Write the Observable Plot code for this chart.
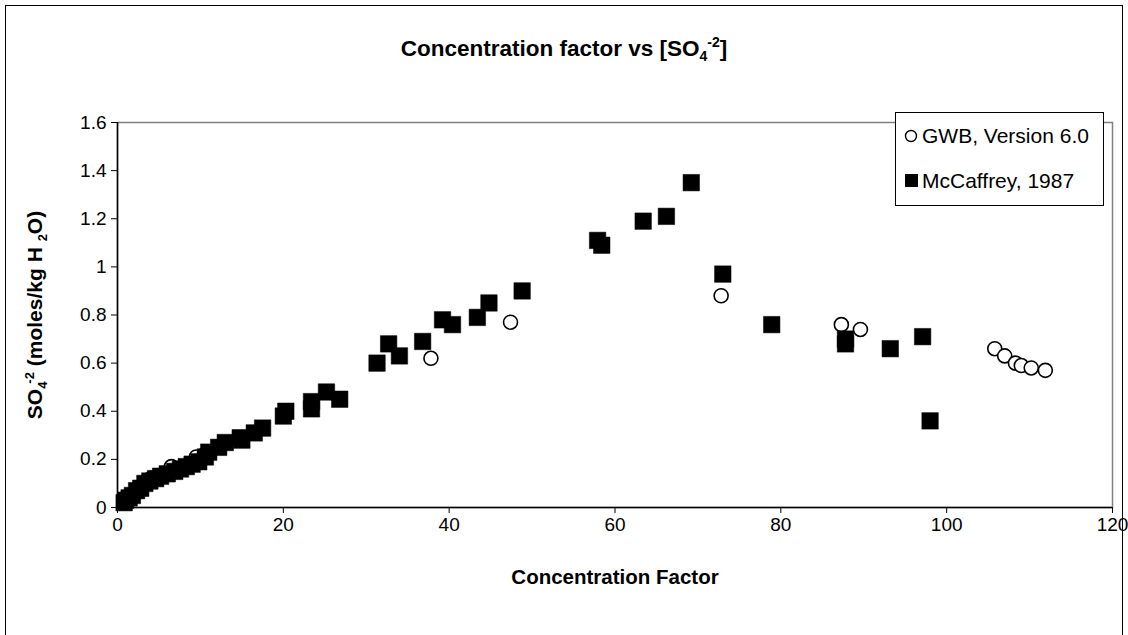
<!DOCTYPE html>
<html>
<head>
<meta charset="utf-8">
<script src="https://cdn.jsdelivr.net/npm/d3@7"></script>
<script src="https://cdn.jsdelivr.net/npm/@observablehq/plot@0.6"></script>
<style>
  html, body { margin: 0; padding: 0; background: white; }
  #chart svg { display: block; }
</style>
</head>
<body>
<div id="chart"></div>
<script>
// ---- Data ----
const gwbX = [1.0, 4.0, 6.5, 9.5, 10.5, 37.8, 47.4, 72.8, 87.3, 89.6, 105.8, 107.0, 108.3, 109.0, 110.2, 111.9];
const gwbY = [0.03, 0.12, 0.17, 0.21, 0.22, 0.62, 0.77, 0.88, 0.76, 0.74, 0.66, 0.63, 0.60, 0.59, 0.58, 0.57];

const mcX = [0.8, 1.0, 1.4, 1.8, 2.3, 2.8, 3.3, 3.9, 4.6, 5.2, 6.0, 6.9, 7.6, 8.3, 9.0, 9.8, 10.6, 11.0, 12.2, 13.0,
             14.8, 15.0, 16.5, 17.5, 20.0, 20.3, 23.4, 23.4, 25.2, 26.8, 31.3, 32.7, 34.0, 36.8, 39.2, 40.4, 43.4, 44.8, 48.8,
             57.9, 58.4, 63.4, 66.2, 69.2, 73.0, 78.9, 87.8, 87.8, 93.2, 97.1, 98.0];
const mcY = [0.02, 0.03, 0.04, 0.05, 0.07, 0.08, 0.10, 0.11, 0.12, 0.13, 0.14, 0.15, 0.16, 0.17, 0.18, 0.19, 0.21, 0.23, 0.25, 0.27,
             0.29, 0.28, 0.31, 0.33, 0.38, 0.40, 0.41, 0.44, 0.48, 0.45, 0.60, 0.68, 0.63, 0.69, 0.78, 0.76, 0.79, 0.85, 0.90,
             1.11, 1.09, 1.19, 1.21, 1.35, 0.97, 0.76, 0.70, 0.68, 0.66, 0.71, 0.36];

const xTicks = [0, 20, 40, 60, 80, 100, 120];
const yTicks = [0, 0.2, 0.4, 0.6, 0.8, 1, 1.2, 1.4, 1.6];
const yTickLabels = ["0", "0.2", "0.4", "0.6", "0.8", "1", "1.2", "1.4", "1.6"];
const seriesNames = ["GWB, Version 6.0", "McCaffrey, 1987"];

const gwb = gwbX.map((x, i) => ({x, y: gwbY[i]}));
const mc = mcX.map((x, i) => ({x, y: mcY[i]}));

const FONT = "'Liberation Sans', Arial, sans-serif";

const chart = Plot.plot({
  width: 1128,
  height: 635,
  marginLeft: 117,
  marginRight: 16,
  marginTop: 122,
  marginBottom: 128,
  style: {fontFamily: FONT, fontSize: "19px", color: "black", background: "white", overflow: "visible"},
  x: {domain: [0, 120]},
  y: {domain: [0, 1.6]},
  marks: [
    Plot.frame({stroke: "#808080", strokeWidth: 1.5}),
    Plot.axisX({ticks: xTicks, tickSize: 6, tickPadding: 4, label: null, tickFormat: d => String(d), fontSize: 19}),
    Plot.axisY({ticks: yTicks, tickSize: 6, tickPadding: 5, label: null,
                tickFormat: d => yTickLabels[yTicks.indexOf(d)], fontSize: 19}),
    Plot.ruleX([0], {stroke: "black", strokeWidth: 1.5}),
    Plot.ruleY([0], {stroke: "black", strokeWidth: 1.5}),
    Plot.dot(gwb, {x: "x", y: "y", symbol: "circle", r: 7, fill: "white", stroke: "black", strokeWidth: 1.6}),
    Plot.dot(mc, {x: "x", y: "y", symbol: "square", r: 9.3, fill: "black", stroke: "black", strokeWidth: 0.5})
  ]
});

document.getElementById("chart").appendChild(chart);

// ---- Decorations: outer frame, titles, legend ----
const svg = d3.select(chart);

svg.insert("rect", ":first-child")
  .attr("x", 5.5).attr("y", 5.5).attr("width", 1117).attr("height", 700)
  .attr("fill", "none").attr("stroke", "black").attr("stroke-width", 1);

function addText(sel) {
  return sel.append("text")
    .attr("font-family", FONT).attr("fill", "black")
    .style("text-anchor", "start");
}

// Title
const title = addText(svg)
  .attr("x", 564).attr("y", 56)
  .style("text-anchor", "middle")
  .attr("font-size", 22.5).attr("font-weight", "bold");
title.append("tspan").text("Concentration factor vs [SO");
title.append("tspan").attr("dy", 5).attr("font-size", 14).text("4");
title.append("tspan").attr("dy", -14).attr("font-size", 14).text("-2");
title.append("tspan").attr("dy", 9).text("]");

// X axis title
addText(svg)
  .attr("x", 615).attr("y", 584)
  .style("text-anchor", "middle")
  .attr("font-size", 20.5).attr("font-weight", "bold")
  .text("Concentration Factor");

// Y axis title
const yl = addText(svg)
  .attr("transform", "translate(42,315) rotate(-90)")
  .style("text-anchor", "middle")
  .attr("font-size", 21).attr("font-weight", "bold");
yl.append("tspan").text("SO");
yl.append("tspan").attr("dy", 5).attr("font-size", 13).text("4");
yl.append("tspan").attr("dy", -13).attr("dx", -2).attr("font-size", 13).text("-2");
yl.append("tspan").attr("dy", 8).text(" (moles/kg H ");
yl.append("tspan").attr("dy", 5).attr("font-size", 13).text("2");
yl.append("tspan").attr("dy", -5).text("O)");

// Legend
const lg = svg.append("g");
lg.append("rect")
  .attr("x", 895.5).attr("y", 112.5).attr("width", 208).attr("height", 93)
  .attr("fill", "white").attr("stroke", "black").attr("stroke-width", 1);
lg.append("circle")
  .attr("cx", 911).attr("cy", 136).attr("r", 5.5)
  .attr("fill", "white").attr("stroke", "black").attr("stroke-width", 1.4);
lg.append("rect")
  .attr("x", 905).attr("y", 174).attr("width", 13).attr("height", 13)
  .attr("fill", "black");
addText(lg)
  .attr("x", 922).attr("y", 143)
  .attr("font-size", 21)
  .text(seriesNames[0]);
addText(lg)
  .attr("x", 922).attr("y", 188)
  .attr("font-size", 21)
  .text(seriesNames[1]);
</script>
</body>
</html>
